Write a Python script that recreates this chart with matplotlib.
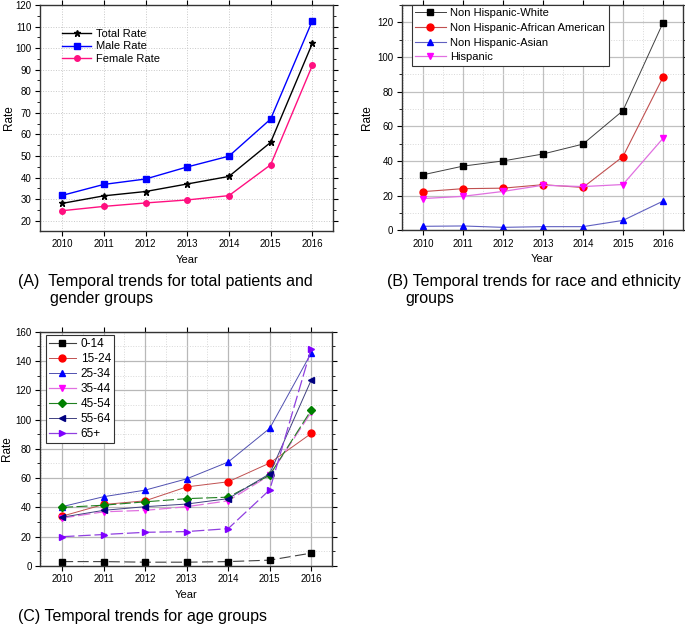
import matplotlib
matplotlib.use("Agg")
import matplotlib.pyplot as plt
from matplotlib.ticker import MultipleLocator

plt.rcParams['font.family'] = ['Liberation Sans', 'DejaVu Sans']

years = [2010, 2011, 2012, 2013, 2014, 2015, 2016]

# Panel A
total_rate = [28.0, 31.5, 33.5, 37.0, 40.5, 56.3, 102.2]
male_rate = [31.7, 36.8, 39.3, 44.9, 49.9, 67.1, 112.7]
female_rate = [24.6, 26.6, 28.2, 29.6, 31.6, 45.9, 92.0]

# Panel B
nh_white = [32.0, 37.0, 40.0, 44.0, 49.7, 69.0, 119.6]
nh_afam = [22.3, 24.0, 24.3, 26.3, 24.7, 42.5, 88.2]
nh_asian = [2.3, 2.5, 1.7, 2.1, 2.1, 5.7, 16.8]
hispanic = [18.3, 19.6, 22.4, 26.0, 25.2, 26.4, 53.0]

# Panel C
age_labels = ['0-14', '15-24', '25-34', '35-44', '45-54', '55-64', '65+']
age_0_14 = [3.0, 3.0, 2.6, 2.6, 3.0, 4.0, 8.8]
age_15_24 = [34.0, 42.0, 44.5, 54.0, 57.5, 70.3, 90.5]
age_25_34 = [40.5, 47.3, 51.8, 59.5, 71.0, 94.0, 145.5]
age_35_44 = [32.7, 37.0, 38.0, 40.5, 44.5, 62.0, 105.0]
age_45_54 = [40.0, 41.5, 43.8, 46.0, 47.0, 62.0, 106.5]
age_55_64 = [33.3, 38.0, 40.5, 42.3, 46.0, 63.0, 127.0]
age_65p = [20.0, 21.5, 23.0, 23.5, 25.5, 52.0, 148.5]

fig = plt.figure(figsize=(6.85, 6.27), dpi=100)

def style_axes(ax, ymajor, yminor, ylab_x):
    ax.set_xlim(2009.47, 2016.5)
    ax.set_xticks(years)
    ax.set_xticklabels([str(y) for y in years])
    ax.yaxis.set_major_locator(MultipleLocator(ymajor))
    ax.yaxis.set_minor_locator(MultipleLocator(yminor))
    ax.tick_params(axis='both', which='major', labelsize=7, direction='out', length=3.5, width=0.8,
                   top=True, right=True, pad=2.5)
    ax.tick_params(axis='both', which='minor', direction='out', length=2, width=0.6, top=True, right=True)
    ax.tick_params(axis='x', which='minor', bottom=False, top=False)
    for s in ax.spines.values():
        s.set_linewidth(1.0)
        s.set_color('#333333')
    ax.set_xlabel('Year', fontsize=8, labelpad=4)
    ax.set_ylabel('Rate', fontsize=8.5)
    ax.yaxis.set_label_coords(ylab_x, 0.5)

# ---------------- Panel A ----------------
axA = fig.add_axes([0.0584, 0.6316, 0.428, 0.3604])
axA.plot(years, total_rate, color='black', marker='*', markersize=5, lw=1.0, label='Total Rate')
axA.plot(years, male_rate, color='#0000FF', marker='s', markersize=4, lw=1.0, label='Male Rate')
axA.plot(years, female_rate, color='#FF1080', marker='o', markersize=4, lw=1.0, label='Female Rate')
axA.set_ylim(15.2, 120)
style_axes(axA, 10, 5, -0.085)
axA.grid(True, which='major', color='#c8c8c8', linestyle=':', linewidth=0.7)
axA.set_axisbelow(True)
axA.legend(loc='upper left', bbox_to_anchor=(0.05, 0.93), frameon=False, fontsize=8,
           handlelength=2.6, labelspacing=0.25, borderpad=0.2, handletextpad=0.4)

# ---------------- Panel B ----------------
axB = fig.add_axes([0.5864, 0.6327, 0.4106, 0.3595])
axB.plot(years, nh_white, color='#404040', lw=0.7, marker='s', markersize=4.5,
         markerfacecolor='black', markeredgecolor='black', label='Non Hispanic-White')
axB.plot(years, nh_afam, color='#C05050', lw=0.8, marker='o', markersize=5,
         markerfacecolor='#FF0000', markeredgecolor='#FF0000', label='Non Hispanic-African American')
axB.plot(years, nh_asian, color='#6060C0', lw=0.8, marker='^', markersize=5,
         markerfacecolor='#0000FF', markeredgecolor='#0000FF', label='Non Hispanic-Asian')
axB.plot(years, hispanic, color='#E070E0', lw=0.9, marker='v', markersize=5,
         markerfacecolor='#FF00FF', markeredgecolor='#FF00FF', label='Hispanic')
axB.set_ylim(0, 130)
style_axes(axB, 20, 10, -0.102)
axB.xaxis.set_minor_locator(MultipleLocator(0.5))
axB.grid(True, which='major', color='#c0c0c0', linestyle='-', linewidth=0.9)
axB.grid(True, which='minor', color='#d8d8d8', linestyle=':', linewidth=0.7)
axB.set_axisbelow(True)
legB = axB.legend(loc='upper left', bbox_to_anchor=(0.035, 1.0), frameon=True, fontsize=8,
                  handlelength=2.8, labelspacing=0.42, borderpad=0.3, handletextpad=0.4,
                  borderaxespad=0, fancybox=False)
legB.get_frame().set_edgecolor('#333333')
legB.get_frame().set_linewidth(0.8)
legB.get_frame().set_alpha(1)

# ---------------- Panel C ----------------
axC = fig.add_axes([0.0584, 0.0973, 0.4263, 0.3737])
axC.plot(years, age_0_14, color='#404040', lw=0.8, ls=(0, (10, 4)), marker='s', markersize=4.5,
         markerfacecolor='black', markeredgecolor='black', label=age_labels[0])
axC.plot(years, age_15_24, color='#C05050', lw=0.7, marker='o', markersize=5,
         markerfacecolor='#FF0000', markeredgecolor='#FF0000', label=age_labels[1])
axC.plot(years, age_25_34, color='#5050B0', lw=0.7, marker='^', markersize=5,
         markerfacecolor='#0000FF', markeredgecolor='#0000FF', label=age_labels[2])
axC.plot(years, age_35_44, color='#E070E0', lw=0.9, ls=(0, (10, 3)), marker='v', markersize=5,
         markerfacecolor='#FF00FF', markeredgecolor='#FF00FF', label=age_labels[3])
axC.plot(years, age_45_54, color='#208020', lw=0.8, ls=(0, (10, 3)), marker='D', markersize=4,
         markerfacecolor='#008000', markeredgecolor='#008000', label=age_labels[4])
axC.plot(years, age_55_64, color='#404080', lw=0.7, marker='<', markersize=5,
         markerfacecolor='#000080', markeredgecolor='#000080', label=age_labels[5])
axC.plot(years, age_65p, color='#9040E0', lw=0.9, ls=(0, (10, 3)), marker='>', markersize=5,
         markerfacecolor='#8000FF', markeredgecolor='#8000FF', label=age_labels[6])
axC.set_ylim(0, 160)
style_axes(axC, 20, 10, -0.092)
axC.xaxis.set_minor_locator(MultipleLocator(0.5))
axC.grid(True, which='major', color='#b8b8b8', linestyle='-', linewidth=0.9)
axC.grid(True, which='minor', color='#d8d8d8', linestyle=':', linewidth=0.7)
axC.set_axisbelow(True)
legC = axC.legend(loc='upper left', bbox_to_anchor=(0.02, 0.985), frameon=True, fontsize=8.5,
                  handlelength=2.3, labelspacing=0.25, borderpad=0.25, handletextpad=0.4,
                  borderaxespad=0, fancybox=False)
for h in legC.get_lines():
    h.set_linestyle('-')
legC.get_frame().set_edgecolor('#333333')
legC.get_frame().set_linewidth(0.8)
legC.get_frame().set_alpha(1)

# ---------------- Captions ----------------
cap = 11.5
fig.text(18 / 685, 1 - 281 / 627, '(A)  Temporal trends for total patients and', fontsize=cap, va='center', ha='left')
fig.text(50 / 685, 1 - 299 / 627, 'gender groups', fontsize=cap, va='center', ha='left')
fig.text(387 / 685, 1 - 281 / 627, '(B) Temporal trends for race and ethnicity', fontsize=cap, va='center', ha='left')
fig.text(405 / 685, 1 - 299 / 627, 'groups', fontsize=cap, va='center', ha='left')
fig.text(18 / 685, 1 - 617 / 627, '(C) Temporal trends for age groups', fontsize=cap, va='center', ha='left')

fig.savefig('out.png', dpi=100)
